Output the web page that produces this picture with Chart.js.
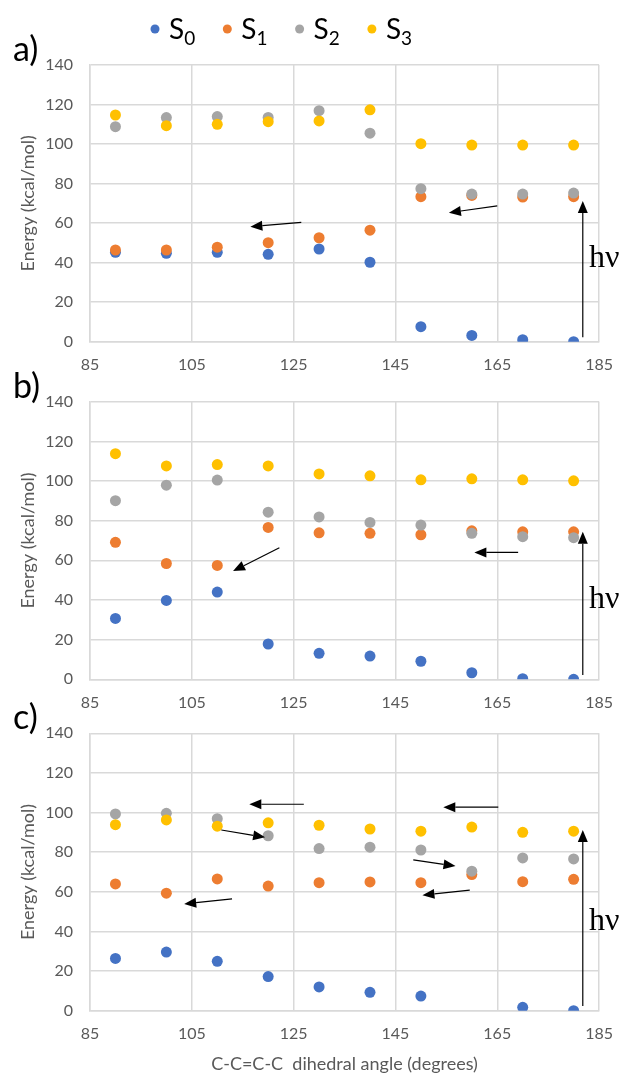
<!DOCTYPE html>
<html>
<head>
<meta charset="utf-8">
<script src="https://cdn.jsdelivr.net/npm/chart.js@4/dist/chart.umd.min.js"></script>
<style>
  body { margin: 0; background: #fff; width: 627px; height: 1075px; overflow: hidden; position: relative; }
  canvas { position: absolute; left: 0; top: 0; }
</style>
</head>
<body>
<canvas id="chartA" width="627" height="1075"></canvas>
<canvas id="chartB" width="627" height="1075"></canvas>
<canvas id="chartC" width="627" height="1075"></canvas>
<script>
// dihedral angles (x) and tick values
var angles = [90, 100, 110, 120, 130, 140, 150, 160, 170, 180];
var xTicks = [85, 105, 125, 145, 165, 185];
var yTicks = [0, 20, 40, 60, 80, 100, 120, 140];

var seriesNames = ['S', 'S', 'S', 'S'];
var seriesSubs = ['0', '1', '2', '3'];
var seriesColors = ['#4472C4', '#ED7D31', '#A5A5A5', '#FFC000'];

// panel a)
var aS0 = [45.2, 44.7, 45.2, 44.2, 46.9, 40.2, 7.6, 3.2, 1.0, 0];
var aS1 = [46.4, 46.4, 47.8, 50.1, 52.6, 56.4, 73.4, 74.0, 73.2, 73.4];
var aS2 = [108.8, 113.4, 113.9, 113.5, 116.9, 105.5, 77.4, 74.7, 74.7, 75.2];
var aS3 = [114.7, 109.3, 110.0, 111.3, 111.7, 117.3, 100.2, 99.5, 99.5, 99.5];

// panel b)
var bS0 = [30.7, 39.8, 44.0, 17.8, 13.1, 11.7, 9.1, 3.3, 0.3, 0];
var bS1 = [69.1, 58.4, 57.4, 76.6, 73.9, 73.6, 72.9, 74.9, 74.4, 74.4];
var bS2 = [90.1, 97.9, 100.5, 84.3, 81.9, 79.1, 77.8, 73.6, 71.9, 71.4];
var bS3 = [113.8, 107.6, 108.3, 107.6, 103.6, 102.6, 100.6, 101.1, 100.6, 100.1];

// panel c)
var cS0 = [26.4, 29.6, 24.9, 17.2, 12.0, 9.3, 7.4, null, 1.7, 0];
var cS1 = [64.0, 59.3, 66.5, 62.9, 64.6, 65.0, 64.6, 68.7, 65.1, 66.3];
var cS2 = [99.3, 99.6, 96.9, 88.3, 81.8, 82.5, 81.1, 70.4, 77.1, 76.6];
var cS3 = [93.9, 96.3, 93.1, 94.8, 93.6, 91.7, 90.6, 92.7, 90.0, 90.6];

// arrows [x1, y1, x2, y2] in data units (head at x2,y2)
var aArrows = [[126.5, 60.4, 116.5, 58.2], [165, 68.7, 155.5, 65.3], [181.8, 2.2, 181.8, 71.2]];
var bArrows = [[122.2, 66.3, 113.1, 54.6], [169.1, 64.0, 160.5, 64.0], [181.8, 2.2, 181.8, 74.4]];
var cArrows = [[127.0, 104.2, 116.3, 104.2], [110.8, 91.2, 119.4, 87.5], [112.9, 56.4, 103.5, 53.9],
               [165.2, 102.7, 154.4, 102.7], [148.5, 76.1, 156.8, 73.0], [159.6, 60.9, 150.3, 58.3],
               [181.8, 2.4, 181.8, 91.2]];
var hvLabel = 'h\u03BD';
var hvPos = { a: [183, 42], b: [183, 40], c: [183, 45] };

var FONT = 'Lato, Carlito, Calibri, sans-serif';
var GRID = '#d9d9d9';
var TEXT = '#595959';

function toPoints(vals) {
    return angles.map(function (x, i) { return { x: x, y: vals[i] }; });
}

// arrows, h-nu text, panel letter
var annotations = {
    id: 'annotations',
    afterDraw: function (chart, args, opts) {
        var ctx = chart.ctx, xs = chart.scales.x, ys = chart.scales.y;
        ctx.save();
        ctx.strokeStyle = '#000';
        ctx.fillStyle = '#000';
        ctx.lineWidth = 1.2;
        opts.arrows.forEach(function (a) {
            var x1 = xs.getPixelForValue(a[0]), y1 = ys.getPixelForValue(a[1]);
            var x2 = xs.getPixelForValue(a[2]), y2 = ys.getPixelForValue(a[3]);
            var ang = Math.atan2(y2 - y1, x2 - x1);
            var hl = 12, hw = 5;
            var bx = x2 - hl * Math.cos(ang), by = y2 - hl * Math.sin(ang);
            ctx.beginPath();
            ctx.moveTo(x1, y1);
            ctx.lineTo(bx, by);
            ctx.stroke();
            ctx.beginPath();
            ctx.moveTo(x2, y2);
            ctx.lineTo(bx + hw * Math.sin(ang), by - hw * Math.cos(ang));
            ctx.lineTo(bx - hw * Math.sin(ang), by + hw * Math.cos(ang));
            ctx.closePath();
            ctx.fill();
        });
        ctx.font = '32px "Liberation Serif", "Times New Roman", serif';
        ctx.textAlign = 'left';
        ctx.textBaseline = 'middle';
        ctx.fillText(hvLabel, xs.getPixelForValue(opts.hv[0]), ys.getPixelForValue(opts.hv[1]));
        ctx.font = '34px ' + FONT;
        ctx.fillText(opts.letter, 13, chart.chartArea.top - 15);
        ctx.restore();
    }
};

// legend with subscripts, only on panel a
var subLegend = {
    id: 'subLegend',
    afterDraw: function (chart, args, opts) {
        if (!opts.show) return;
        var ctx = chart.ctx;
        ctx.save();
        seriesNames.forEach(function (name, i) {
            var cx = 155 + i * 72.3, cy = 29;
            ctx.fillStyle = seriesColors[i];
            ctx.beginPath();
            ctx.arc(cx, cy, 4.5, 0, Math.PI * 2);
            ctx.fill();
            ctx.fillStyle = '#000';
            ctx.textAlign = 'left';
            ctx.textBaseline = 'alphabetic';
            ctx.font = '28px ' + FONT;
            ctx.fillText(name, cx + 14, cy + 10);
            var w = ctx.measureText(name).width;
            ctx.font = '19px ' + FONT;
            ctx.fillText(seriesSubs[i], cx + 14 + w, cy + 16);
        });
        ctx.restore();
    }
};

function makePanel(id, letter, vals, arrows, hv, top, bottom, last, legend) {
    var xHeight = last ? 64 : 30;
    var datasets = vals.map(function (v, i) {
        return {
            label: seriesNames[i] + seriesSubs[i],
            data: toPoints(v),
            backgroundColor: seriesColors[i],
            borderColor: seriesColors[i],
            borderWidth: 0,
            pointRadius: 5.5,
            order: 3 - i
        };
    });
    new Chart(document.getElementById(id), {
        type: 'scatter',
        data: { datasets: datasets },
        options: {
            responsive: false,
            animation: false,
            events: [],
            layout: { padding: { top: top, left: 0, right: 23, bottom: 1075 - bottom - xHeight } },
            plugins: {
                legend: { display: false },
                tooltip: { enabled: false },
                annotations: { arrows: arrows, hv: hv, letter: letter },
                subLegend: { show: legend }
            },
            scales: {
                x: {
                    type: 'linear',
                    min: 85, max: 185,
                    afterBuildTicks: function (s) { s.ticks = xTicks.map(function (v) { return { value: v }; }); },
                    afterFit: function (s) { s.height = xHeight; },
                    grid: { color: GRID, lineWidth: 1.5, drawTicks: false },
                    border: { color: GRID, width: 1.5 },
                    ticks: { color: TEXT, font: { family: FONT, size: 16 }, padding: 14, maxRotation: 0 },
                    title: {
                        display: last,
                        text: 'C-C=C-C  dihedral angle (degrees)',
                        color: TEXT,
                        font: { family: FONT, size: 18 },
                        padding: 0
                    }
                },
                y: {
                    min: 0, max: 140,
                    afterBuildTicks: function (s) { s.ticks = yTicks.map(function (v) { return { value: v }; }); },
                    afterFit: function (s) { s.width = 90; },
                    grid: { color: GRID, lineWidth: 1.5, drawTicks: false },
                    border: { color: GRID, width: 1.5 },
                    ticks: { color: TEXT, font: { family: FONT, size: 16 }, padding: 17 },
                    title: {
                        display: true,
                        text: 'Energy (kcal/mol)',
                        color: TEXT,
                        font: { family: FONT, size: 18 },
                        padding: { top: 17, bottom: 0 }
                    }
                }
            }
        },
        plugins: [annotations, subLegend]
    });
}

makePanel('chartA', 'a)', [aS0, aS1, aS2, aS3], aArrows, hvPos.a, 65, 341.7, false, true);
makePanel('chartB', 'b)', [bS0, bS1, bS2, bS3], bArrows, hvPos.b, 401.7, 679.3, false, false);
makePanel('chartC', 'c)', [cS0, cS1, cS2, cS3], cArrows, hvPos.c, 733.3, 1010.7, true, false);
</script>
</body>
</html>
